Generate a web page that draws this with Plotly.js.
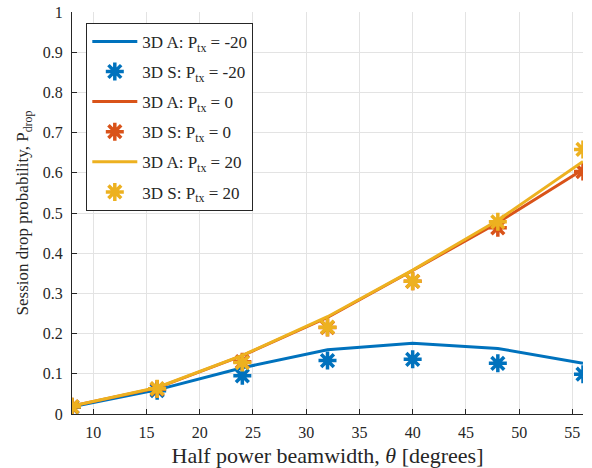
<!DOCTYPE html>
<html><head><meta charset="utf-8">
<script src="https://cdn.plot.ly/plotly-3.0.1.min.js"></script>
<style>html,body{margin:0;padding:0;background:#fff}#chart{width:592px;height:468px}</style>
</head><body><div id="chart"></div>
<script>
const theta = [8, 16, 24, 32, 40, 48, 56];
const anaM20 = [0.018, 0.060, 0.115, 0.160, 0.176, 0.163, 0.126];
const simM20 = [0.017, 0.058, 0.095, 0.133, 0.136, 0.126, 0.099];
const ana0   = [0.020, 0.065, 0.145, 0.240, 0.357, 0.476, 0.608];
const sim0   = [0.018, 0.062, 0.130, 0.215, 0.330, 0.463, 0.603];
const ana20  = [0.020, 0.066, 0.146, 0.242, 0.358, 0.482, 0.628];
const sim20  = [0.018, 0.063, 0.128, 0.216, 0.330, 0.478, 0.658];
const names = ['3D A: P<sub>tx</sub> = -20','3D S: P<sub>tx</sub> = -20','3D A: P<sub>tx</sub> = 0','3D S: P<sub>tx</sub> = 0','3D A: P<sub>tx</sub> = 20','3D S: P<sub>tx</sub> = 20'];
const colors = ['#0072BD', '#D95319', '#EDB120'];
const xTicks = [10, 15, 20, 25, 30, 35, 40, 45, 50, 55];

function lineTrace(y, c, n, g) {
  return {x: theta, y: y, mode: 'lines', name: n, legendgroup: g, line: {color: c, width: 3}};
}
function markTrace(y, c, n, g) {
  return {x: theta, y: y, mode: 'markers', name: n, legendgroup: g,
    marker: {symbol: 'asterisk-open', size: 15, color: c, line: {color: c, width: 3.5}}};
}
const data = [
  lineTrace(anaM20, colors[0], names[0], 'g1'),
  markTrace(simM20, colors[0], names[1], 'g2'),
  lineTrace(ana0, colors[1], names[2], 'g3'),
  markTrace(sim0, colors[1], names[3], 'g4'),
  lineTrace(ana20, colors[2], names[4], 'g5'),
  markTrace(sim20, colors[2], names[5], 'g6')
];
const font = {family: 'Liberation Serif', color: '#262626'};
const layout = {
  width: 592, height: 468,
  margin: {l: 72, r: 9, t: 12, b: 54},
  paper_bgcolor: '#fff', plot_bgcolor: '#fff',
  font: Object.assign({size: 15}, font),
  showlegend: true,
  legend: {x: 0.028, y: 0.973, xanchor: 'left', yanchor: 'top',
    bgcolor: '#fff', bordercolor: '#262626', borderwidth: 1, itemwidth: 45,
    font: Object.assign({size: 17}, font), tracegroupgap: 5, traceorder: 'grouped'},
  xaxis: {range: [8, 56], tickvals: xTicks, ticks: 'inside', ticklen: 5, ticklabelstandoff: 4,
    tickcolor: '#262626', showline: true, linecolor: '#262626', linewidth: 1,
    showgrid: true, gridcolor: '#e3e3e3', zeroline: false,
    tickfont: Object.assign({size: 16}, font),
    title: {text: 'Half power beamwidth, <i>θ</i> [degrees]', font: Object.assign({size: 22}, font), standoff: 9}},
  yaxis: {range: [0, 1], dtick: 0.1, ticks: 'inside', ticklen: 5, ticklabelstandoff: 5,
    tickcolor: '#262626', showline: true, linecolor: '#262626', linewidth: 1,
    showgrid: true, gridcolor: '#e3e3e3', zeroline: false,
    tickfont: Object.assign({size: 16}, font),
    title: {text: 'Session drop probability, P<sub>drop</sub>', font: Object.assign({size: 17}, font), standoff: 9}}
};
Plotly.newPlot('chart', data, layout, {displayModeBar: false, staticPlot: true});
</script></body></html>
